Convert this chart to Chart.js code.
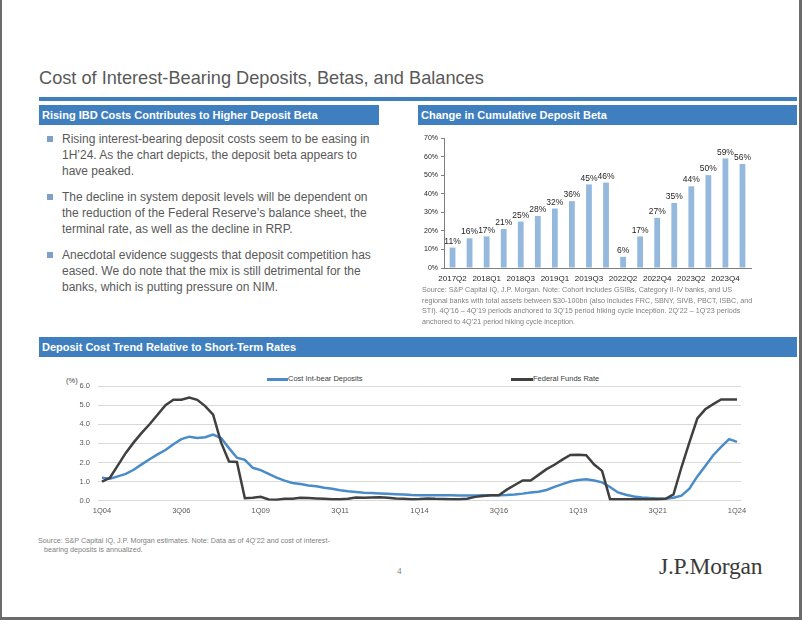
<!DOCTYPE html>
<html>
<head>
<meta charset="utf-8">
<script src="https://cdn.jsdelivr.net/npm/chart.js@4"></script>
<style>
  html, body { margin:0; padding:0; background:#fff; }
  body { width:802px; height:620px; position:relative; overflow:hidden; font-family:"Liberation Sans", Arial, sans-serif; }
  .abs { position:absolute; }
  .frameL { left:0; top:0; width:2px; height:620px; background:#6b6b6b; }
  .frameR { left:799px; top:0; width:3px; height:620px; background:#6b6b6b; }
  .frameB { left:0; top:617px; width:802px; height:3px; background:#6b6b6b; }
  .title { left:39px; top:68px; font-size:18.2px; color:#595959; white-space:nowrap; }
  .rule { left:39px; top:97px; width:758px; height:4px; background:#3F7FBF; }
  .hdr { background:#3F7FBF; color:#fff; font-weight:bold; font-size:11px; line-height:20px; height:20px; padding-left:3px; box-sizing:border-box; white-space:nowrap; }
  .para { left:62px; font-size:12px; line-height:16px; color:#595959; white-space:nowrap; }
  .sq { width:6px; height:6px; background:#7FA1C9; left:47px; }
  .src { font-size:7.2px; color:#7f7f7f; white-space:nowrap; }
  .leg { font-size:7.5px; color:#404040; white-space:nowrap; line-height:10px; }
  .sw { height:2.5px; }
</style>
</head>
<body>
<div class="abs frameL"></div>
<div class="abs frameR"></div>
<div class="abs frameB"></div>

<div class="abs title">Cost of Interest-Bearing Deposits, Betas, and Balances</div>
<div class="abs rule"></div>

<div class="abs hdr" style="left:39px;top:105px;width:340px;">Rising IBD Costs Contributes to Higher Deposit Beta</div>
<div class="abs hdr" style="left:418px;top:105px;width:379px;">Change in Cumulative Deposit Beta</div>

<div class="abs sq" style="top:136px;"></div>
<div class="abs para" style="top:131px;">Rising interest-bearing deposit costs seem to be easing in<br>1H’24. As the chart depicts, the deposit beta appears to<br>have peaked.</div>
<div class="abs sq" style="top:194px;"></div>
<div class="abs para" style="top:189px;">The decline in system deposit levels will be dependent on<br>the reduction of the Federal Reserve’s balance sheet, the<br>terminal rate, as well as the decline in RRP.</div>
<div class="abs sq" style="top:252px;"></div>
<div class="abs para" style="top:247px;">Anecdotal evidence suggests that deposit competition has<br>eased. We do note that the mix is still detrimental for the<br>banks, which is putting pressure on NIM.</div>

<div class="abs" style="left:415px;top:130px;width:345px;height:160px;"><canvas id="betaChart" width="345" height="160"></canvas></div>

<div class="abs src" style="left:422px;top:285px;line-height:10.6px;">Source: S&amp;P Capital IQ, J.P. Morgan. Note: Cohort includes GSIBs, Category II-IV banks, and US<br>regional banks with total assets between $30-100bn (also includes FRC, SBNY, SIVB, PBCT, ISBC, and<br>STI). 4Q’16 – 4Q’19 periods anchored to 3Q’15 period hiking cycle inception. 2Q’22 – 1Q’23 periods<br>anchored to 4Q’21 period hiking cycle inception.</div>

<div class="abs hdr" style="left:39px;top:337px;width:758px;">Deposit Cost Trend Relative to Short-Term Rates</div>

<div class="abs leg" style="left:66px;top:376px;">(%)</div>
<div class="abs sw" style="left:267px;top:378px;width:21px;background:#4A8BC9;"></div>
<div class="abs leg" style="left:288px;top:374px;">Cost Int-bear Deposits</div>
<div class="abs sw" style="left:511px;top:378px;width:22px;background:#404040;"></div>
<div class="abs leg" style="left:533px;top:374px;">Federal Funds Rate</div>

<div class="abs" style="left:39px;top:370px;width:720px;height:150px;"><canvas id="rateChart" width="720" height="150"></canvas></div>

<div class="abs src" style="left:38px;top:537px;line-height:8.5px;">Source: S&amp;P Capital IQ, J.P. Morgan estimates. Note: Data as of 4Q’22 and cost of interest-<br>&nbsp;&nbsp;&nbsp;bearing deposits is annualized.</div>

<div class="abs" style="left:397px;top:566px;font-family:'Liberation Serif',serif;font-size:9px;color:#7f7f7f;">4</div>
<div class="abs" style="left:659px;top:553px;font-family:'Liberation Serif','DejaVu Serif',serif;font-size:23.5px;color:#3a3a3a;letter-spacing:-0.2px;white-space:nowrap;">J.P.Morgan</div>

<script>
// ---------- Data: cumulative deposit beta ----------
const betaCategories = ['2017Q2','2017Q4','2018Q1','2018Q2','2018Q3','2018Q4','2019Q1','2019Q2','2019Q3','2019Q4','2022Q2','2022Q3','2022Q4','2023Q1','2023Q2','2023Q3','2023Q4','2024Q1'];
const betaValues = [11,16,17,21,25,28,32,36,45,46,6,17,27,35,44,50,59,56];
const betaTicks = [0,10,20,30,40,50,60,70];

// ---------- Data: deposit cost vs fed funds (quarterly 1Q04 - 1Q24) ----------
const rateShownTicks = ['1Q04','3Q06','1Q09','3Q11','1Q14','3Q16','1Q19','3Q21','1Q24'];
const costDeposits = [
  1.20,1.15,1.27,1.40,1.62,1.90,2.17,2.42,2.65,2.95,
  3.22,3.35,3.28,3.32,3.46,3.28,2.75,2.25,2.14,1.72,
  1.60,1.40,1.21,1.05,0.93,0.87,0.80,0.75,0.68,0.62,
  0.55,0.50,0.46,0.42,0.40,0.38,0.36,0.34,0.32,0.30,
  0.29,0.29,0.28,0.28,0.28,0.27,0.27,0.27,0.28,0.28,
  0.29,0.30,0.33,0.37,0.43,0.47,0.56,0.72,0.87,1.00,
  1.08,1.12,1.06,0.96,0.72,0.43,0.31,0.22,0.17,0.14,
  0.12,0.10,0.15,0.26,0.63,1.27,1.81,2.38,2.82,3.22,
  3.08];
const fedFunds = [
  1.00,1.20,1.85,2.50,3.05,3.55,4.00,4.50,5.00,5.28,
  5.28,5.40,5.28,4.95,4.50,3.05,2.05,2.03,0.13,0.15,
  0.20,0.06,0.05,0.10,0.10,0.15,0.14,0.12,0.10,0.08,
  0.08,0.10,0.17,0.15,0.17,0.18,0.15,0.12,0.10,0.08,
  0.09,0.12,0.10,0.09,0.08,0.08,0.10,0.20,0.24,0.28,
  0.29,0.58,0.82,1.06,1.06,1.35,1.65,1.88,2.15,2.39,
  2.41,2.38,1.89,1.56,0.08,0.08,0.08,0.08,0.07,0.07,
  0.08,0.10,0.33,1.75,3.05,4.30,4.78,5.05,5.30,5.30,
  5.30];
const rateYTicks = [0,1,2,3,4,5,6];

// quarter labels
const quarters = [];
for (let y = 2004; y <= 2024; y++) {
  for (let q = 1; q <= 4; q++) {
    if (quarters.length < costDeposits.length) quarters.push(q + 'Q' + String(y).slice(2));
  }
}

const FONT = '"Liberation Sans", Arial, sans-serif';

// ---------- Bar chart ----------
const barLabelPlugin = {
  id: 'barLabels',
  afterDatasetsDraw(chart) {
    const ctx = chart.ctx;
    const meta = chart.getDatasetMeta(0);
    ctx.save();
    ctx.font = '8.5px ' + FONT;
    ctx.fillStyle = '#262626';
    ctx.textAlign = 'center';
    ctx.textBaseline = 'bottom';
    meta.data.forEach((bar, i) => {
      ctx.fillText(betaValues[i] + '%', bar.x, bar.y - 2);
    });
    ctx.restore();
  }
};

new Chart(document.getElementById('betaChart'), {
  type: 'bar',
  data: {
    labels: betaCategories,
    datasets: [{ data: betaValues, backgroundColor: '#95B9DD', borderWidth: 0, barPercentage: 0.34, categoryPercentage: 1.0 }]
  },
  options: {
    responsive: false,
    animation: false,
    events: [],
    layout: { padding: { top: 8, right: 9, left: 0, bottom: 0 } },
    plugins: { legend: { display: false }, tooltip: { enabled: false } },
    scales: {
      x: {
        afterFit(s) { s.height = 22; },
        grid: { display: false, drawTicks: false },
        border: { display: true, color: '#7f7f7f', width: 1 },
        ticks: {
          autoSkip: false, maxRotation: 0, minRotation: 0, padding: 6,
          color: '#262626', font: { family: FONT, size: 8 },
          callback(v, i) { return i % 2 === 0 ? betaCategories[i] : ''; }
        }
      },
      y: {
        min: 0, max: 70,
        afterFit(s) { s.width = 29; },
        afterBuildTicks(s) { s.ticks = betaTicks.map(v => ({ value: v })); },
        grid: { display: true, drawOnChartArea: false, drawTicks: true, tickLength: 3, color: '#7f7f7f' },
        border: { display: true, color: '#7f7f7f', width: 1 },
        ticks: { padding: 3, color: '#262626', font: { family: FONT, size: 7 }, callback(v) { return v + '%'; } }
      }
    }
  },
  plugins: [barLabelPlugin]
});

// ---------- Line chart ----------
new Chart(document.getElementById('rateChart'), {
  type: 'line',
  data: {
    labels: quarters,
    datasets: [
      { label: 'Federal Funds Rate', data: fedFunds, borderColor: '#404040', borderWidth: 2.5, pointRadius: 0, tension: 0, fill: false },
      { label: 'Cost Int-bear Deposits', data: costDeposits, borderColor: '#4A8BC9', borderWidth: 2.5, pointRadius: 0, tension: 0, fill: false }
    ]
  },
  options: {
    responsive: false,
    animation: false,
    events: [],
    layout: { padding: { top: 16, right: 18, left: 0, bottom: 0 } },
    plugins: { legend: { display: false }, tooltip: { enabled: false } },
    scales: {
      x: {
        offset: true,
        afterFit(s) { s.height = 19.3; },
        grid: { display: false, drawTicks: false },
        border: { display: false },
        ticks: {
          autoSkip: false, maxRotation: 0, minRotation: 0, padding: 6,
          color: '#595959', font: { family: FONT, size: 7.5 },
          callback(v, i) { return rateShownTicks.includes(quarters[i]) ? quarters[i] : ''; }
        }
      },
      y: {
        min: 0, max: 6,
        afterFit(s) { s.width = 59; },
        afterBuildTicks(s) { s.ticks = rateYTicks.map(v => ({ value: v })); },
        grid: { color: '#D9D9D9', lineWidth: 1, drawTicks: false },
        border: { display: false },
        ticks: { padding: 8, color: '#595959', font: { family: FONT, size: 7.5 }, callback(v) { return v.toFixed(1); } }
      }
    }
  }
});
</script>
</body>
</html>
